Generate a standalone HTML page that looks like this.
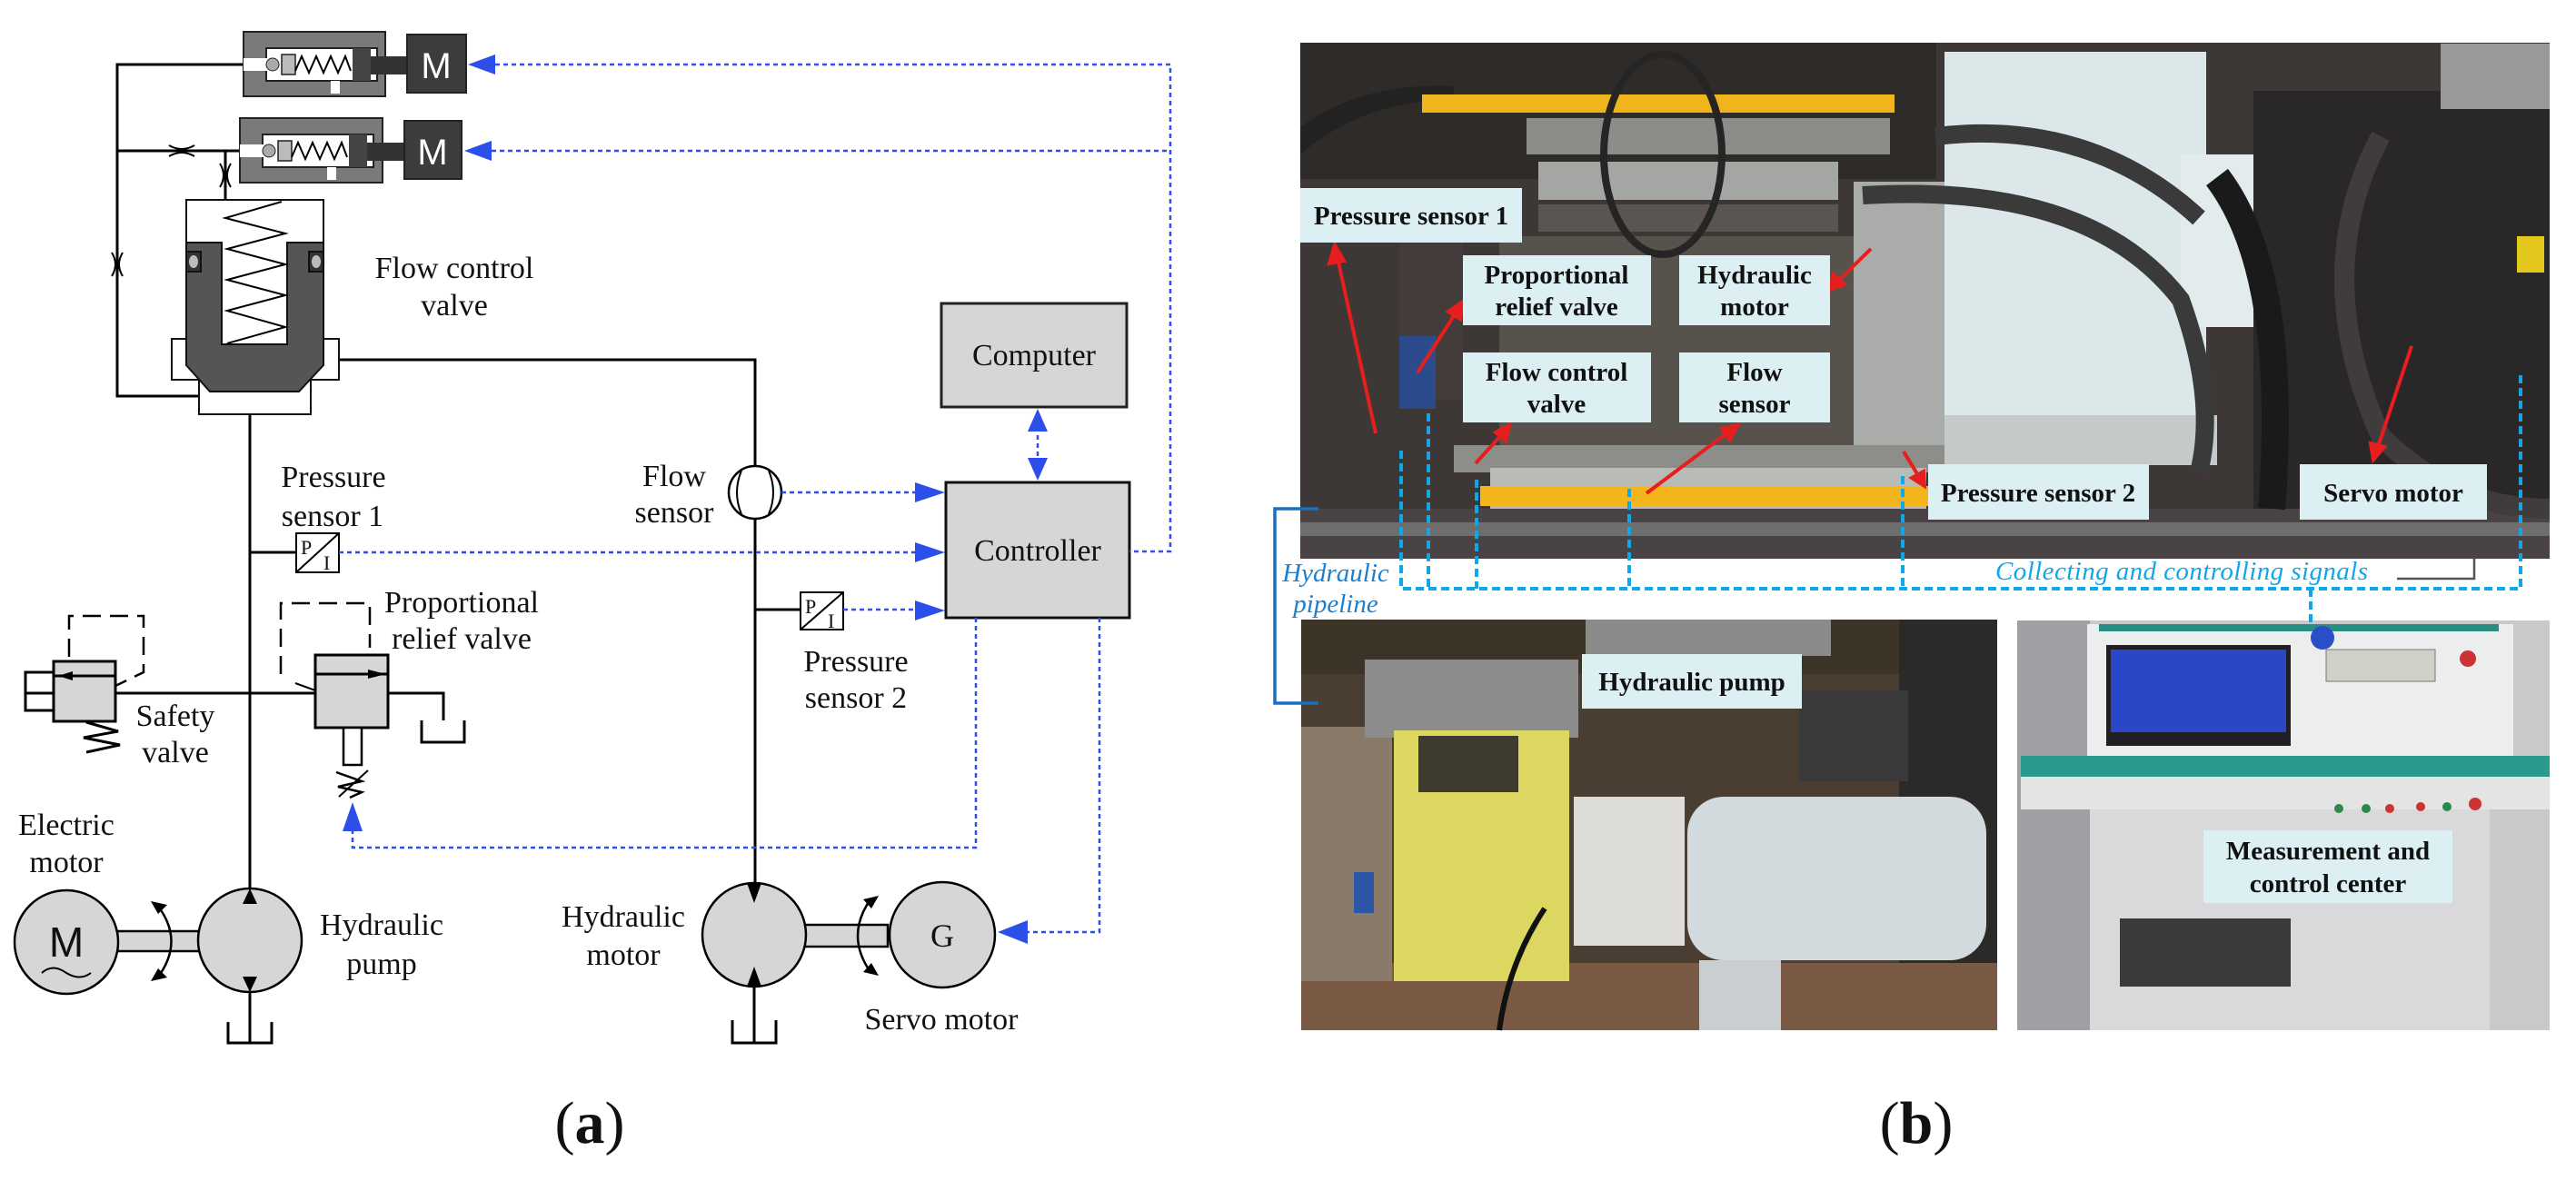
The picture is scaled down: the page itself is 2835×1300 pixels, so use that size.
<!DOCTYPE html>
<html><head><meta charset="utf-8"><style>
html,body{margin:0;padding:0;background:#fff;}
svg{display:block;}
svg text{font-family:"Liberation Serif",serif;}
.lb{font-family:"Liberation Serif",serif;font-weight:bold;fill:#111;font-size:29px;}
.sr{font-family:"Liberation Serif",serif !important;fill:#111;}
.ss{font-family:"Liberation Sans",sans-serif !important;}
</style></head><body>
<svg width="2835" height="1300" viewBox="0 0 2835 1300" xmlns="http://www.w3.org/2000/svg">

<g stroke="#000" stroke-width="3" fill="none">
  <polyline points="268,71 129,71 129,436 219,436"/>
  <polyline points="129,166 264,166"/>
  <line x1="248" y1="166" x2="248" y2="220"/>
  <line x1="275" y1="456" x2="275" y2="978"/>
  <polyline points="373,396 831,396 831,513"/>
  <line x1="831" y1="571" x2="831" y2="971"/>
  <line x1="275" y1="608" x2="326" y2="608"/>
  <line x1="831" y1="671" x2="881" y2="671"/>
  <line x1="127" y1="763" x2="347" y2="763"/>
  <polyline points="427,763 488,763 488,793"/>
  <polyline points="464,793 464,817 511,817 511,793"/>
  <polyline points="59,740 28,740 28,782 59,782"/>
  <line x1="28" y1="763" x2="59" y2="763"/>
</g>
<g stroke="#000" stroke-width="2" fill="none">
  <path d="M186,160 Q200,168 214,160 M186,172 Q200,164 214,172"/>
  <path d="M242,180 Q250,193 242,206 M254,180 Q246,193 254,206"/>
  <path d="M123,278 Q131,291 123,304 M135,278 Q127,291 135,304"/>
</g>

<g>
  <rect x="268" y="35" width="156" height="71" fill="#7a7a7a" stroke="#222" stroke-width="2"/>
  <rect x="293" y="53" width="122" height="36" fill="#fff" stroke="#222" stroke-width="2"/>
  <rect x="268" y="64" width="27" height="14" fill="#fff"/>
  <circle cx="300" cy="71" r="7" fill="#aaa" stroke="#222"/>
  <path d="M310,60 L325,60 L325,82 L310,82 Z" fill="#bbb" stroke="#222" stroke-width="1.5"/>
  <polyline points="325,78 332,62 340,80 348,62 356,80 364,62 372,80 380,62 386,78" fill="none" stroke="#000" stroke-width="2"/>
  <rect x="388" y="53" width="20" height="36" fill="#444"/>
  <rect x="408" y="62" width="42" height="20" fill="#333"/>
  <rect x="364" y="89" width="10" height="14" fill="#fff"/>
  <rect x="448" y="38" width="65" height="64" fill="#3c3c3c" stroke="#222" stroke-width="2"/>
  <text x="480" y="86" text-anchor="middle" class="ss" font-size="40" fill="#fff">M</text>
</g>
<g>
  <rect x="264" y="130" width="157" height="71" fill="#7a7a7a" stroke="#222" stroke-width="2"/>
  <rect x="289" y="148" width="122" height="36" fill="#fff" stroke="#222" stroke-width="2"/>
  <rect x="264" y="159" width="27" height="14" fill="#fff"/>
  <circle cx="296" cy="166" r="7" fill="#aaa" stroke="#222"/>
  <path d="M306,155 L321,155 L321,177 L306,177 Z" fill="#bbb" stroke="#222" stroke-width="1.5"/>
  <polyline points="321,173 328,157 336,175 344,157 352,175 360,157 368,175 376,157 382,173" fill="none" stroke="#000" stroke-width="2"/>
  <rect x="384" y="148" width="20" height="36" fill="#444"/>
  <rect x="404" y="157" width="42" height="20" fill="#333"/>
  <rect x="360" y="184" width="10" height="14" fill="#fff"/>
  <rect x="445" y="133" width="63" height="64" fill="#3c3c3c" stroke="#222" stroke-width="2"/>
  <text x="476" y="181" text-anchor="middle" class="ss" font-size="40" fill="#fff">M</text>
</g>

<g stroke="#111" stroke-width="2">
  <rect x="219" y="418" width="123" height="38" fill="#fff"/>
  <rect x="189" y="373" width="184" height="45" fill="#fff"/>
  <rect x="205" y="220" width="151" height="180" fill="#fff"/>
  <path d="M205,267 L244,267 L244,379 L316,379 L316,267 L356,267 L356,402 L329,431 L231,431 L205,402 Z" fill="#555"/>
  <polyline points="310,222 248,240 314,257 250,274 314,291 250,308 314,325 250,342 314,360 250,378" fill="none" stroke="#000"/>
  <rect x="205" y="277" width="16" height="22" fill="#333"/>
  <rect x="340" y="277" width="16" height="22" fill="#333"/>
  <ellipse cx="213" cy="288" rx="5" ry="7" fill="#bbb" stroke="none"/>
  <ellipse cx="348" cy="288" rx="5" ry="7" fill="#bbb" stroke="none"/>
</g>

<circle cx="831" cy="542" r="29" fill="#fff" stroke="#000" stroke-width="2.5"/>
<path d="M816,518 Q806,542 816,566 M846,518 Q856,542 846,566" fill="none" stroke="#000" stroke-width="2"/>

<g stroke="#000" stroke-width="2" fill="#fff">
  <rect x="326" y="587" width="47" height="43"/>
  <line x1="326" y1="630" x2="373" y2="587"/>
  <rect x="881" y="652" width="47" height="41"/>
  <line x1="881" y1="693" x2="928" y2="652"/>
</g>
<text x="331" y="610" class="sr" font-size="22">P</text><text x="356" y="627" class="sr" font-size="22">I</text>
<text x="886" y="675" class="sr" font-size="22">P</text><text x="911" y="691" class="sr" font-size="22">I</text>

<rect x="59" y="728" width="68" height="66" fill="#d6d6d6" stroke="#000" stroke-width="3"/>
<line x1="59" y1="744" x2="127" y2="744" stroke="#000" stroke-width="3"/>
<path d="M64,744 L80,739 L80,749 Z" fill="#000"/>
<polyline points="76,723 76,678 158,678 158,740 127,755" fill="none" stroke="#000" stroke-width="2.5" stroke-dasharray="20,10"/>
<polyline points="95,795 130,805 92,812 132,820 95,828" fill="none" stroke="#000" stroke-width="3"/>

<rect x="347" y="721" width="80" height="80" fill="#d6d6d6" stroke="#000" stroke-width="3"/>
<line x1="347" y1="742" x2="427" y2="742" stroke="#000" stroke-width="3"/>
<path d="M425,742 L405,737 L405,747 Z" fill="#000"/>
<polyline points="309,742 309,664 407,664 407,713" fill="none" stroke="#000" stroke-width="2.5" stroke-dasharray="20,10"/>
<line x1="325" y1="752" x2="347" y2="760" stroke="#000" stroke-width="2"/>
<rect x="378" y="801" width="20" height="41" fill="#fff" stroke="#000" stroke-width="2.5"/>
<polyline points="370,850 398,860 372,866 398,872 385,878" fill="none" stroke="#000" stroke-width="2.5"/>
<line x1="373" y1="877" x2="405" y2="848" stroke="#000" stroke-width="2"/>

<rect x="129" y="1025" width="92" height="22" fill="#d6d6d6" stroke="#000" stroke-width="2.5"/>
<circle cx="73" cy="1037" r="57" fill="#d6d6d6" stroke="#000" stroke-width="2.5"/>
<text x="73" y="1053" text-anchor="middle" class="ss" font-size="46" fill="#111">M</text>
<path d="M46,1071 Q58,1060 73,1071 Q88,1080 100,1071" fill="none" stroke="#000" stroke-width="2"/>
<circle cx="275" cy="1035" r="57" fill="#d6d6d6" stroke="#000" stroke-width="2.5"/>
<path d="M267,995 L283,995 L275,978 Z" fill="#000"/>
<path d="M267,1075 L283,1075 L275,1092 Z" fill="#000"/>
<line x1="275" y1="1092" x2="275" y2="1148" stroke="#000" stroke-width="3"/>
<polyline points="251,1125 251,1148 299,1148 299,1125" fill="none" stroke="#000" stroke-width="3"/>
<path d="M172,995 Q205,1036 172,1078" fill="none" stroke="#000" stroke-width="2.5"/>
<path d="M166,992 L184,996 L174,1006 Z M166,1080 L184,1076 L174,1066 Z" fill="#000"/>

<rect x="885" y="1018" width="92" height="24" fill="#d6d6d6" stroke="#000" stroke-width="2.5"/>
<circle cx="830" cy="1029" r="57" fill="#d6d6d6" stroke="#000" stroke-width="2.5"/>
<path d="M822,972 L838,972 L830,994 Z" fill="#000"/>
<path d="M822,1086 L838,1086 L830,1064 Z" fill="#000"/>
<line x1="830" y1="1086" x2="830" y2="1148" stroke="#000" stroke-width="3"/>
<polyline points="806,1123 806,1148 854,1148 854,1123" fill="none" stroke="#000" stroke-width="3"/>
<circle cx="1037" cy="1029" r="58" fill="#d6d6d6" stroke="#000" stroke-width="2.5"/>
<text x="1037" y="1042" text-anchor="middle" class="sr" font-size="36">G</text>
<path d="M958,990 Q930,1030 958,1070" fill="none" stroke="#000" stroke-width="2.5"/>
<path d="M967,986 L950,990 L959,1000 Z M967,1074 L950,1070 L959,1060 Z" fill="#000"/>

<rect x="1036" y="334" width="204" height="114" fill="#d6d6d6" stroke="#222" stroke-width="3"/>
<text x="1138" y="402" text-anchor="middle" class="sr" font-size="34">Computer</text>
<rect x="1041" y="531" width="202" height="149" fill="#d6d6d6" stroke="#111" stroke-width="3"/>
<text x="1142" y="617" text-anchor="middle" class="sr" font-size="34">Controller</text>

<g stroke="#2b4fe8" stroke-width="2.5" fill="none" stroke-dasharray="5,4">
  <polyline points="545,71 1288,71 1288,607 1243,607"/>
  <line x1="541" y1="166" x2="1288" y2="166"/>
  <line x1="1142" y1="470" x2="1142" y2="510"/>
  <line x1="860" y1="542" x2="1008" y2="542"/>
  <line x1="373" y1="608" x2="1008" y2="608"/>
  <line x1="928" y1="671" x2="1008" y2="671"/>
  <polyline points="1074,680 1074,933 388,933 388,915"/>
  <polyline points="1210,680 1210,1026 1130,1026"/>
</g>
<g fill="#2b4fe8">
  <path d="M515,71 L545,60 L545,82 Z"/>
  <path d="M511,166 L541,155 L541,177 Z"/>
  <path d="M1142,450 L1131,475 L1153,475 Z"/>
  <path d="M1142,529 L1131,504 L1153,504 Z"/>
  <path d="M1040,542 L1007,531 L1007,553 Z"/>
  <path d="M1040,608 L1007,597 L1007,619 Z"/>
  <path d="M1040,672 L1007,661 L1007,683 Z"/>
  <path d="M388,883 L377,915 L399,915 Z"/>
  <path d="M1098,1026 L1131,1013 L1131,1039 Z"/>
</g>

<g font-size="34" text-anchor="middle">
  <text class="sr" x="500" y="306">Flow control</text>
  <text class="sr" x="500" y="347">valve</text>
  <text class="sr" x="367" y="536">Pressure</text>
  <text class="sr" x="366" y="579">sensor 1</text>
  <text class="sr" x="742" y="535">Flow</text>
  <text class="sr" x="742" y="575">sensor</text>
  <text class="sr" x="508" y="674">Proportional</text>
  <text class="sr" x="508" y="714">relief valve</text>
  <text class="sr" x="193" y="799">Safety</text>
  <text class="sr" x="193" y="839">valve</text>
  <text class="sr" x="942" y="739">Pressure</text>
  <text class="sr" x="942" y="779">sensor 2</text>
  <text class="sr" x="73" y="919">Electric</text>
  <text class="sr" x="73" y="960">motor</text>
  <text class="sr" x="420" y="1029">Hydraulic</text>
  <text class="sr" x="420" y="1072">pump</text>
  <text class="sr" x="686" y="1020">Hydraulic</text>
  <text class="sr" x="686" y="1062">motor</text>
  <text class="sr" x="1036" y="1133">Servo motor</text>
</g>
<text x="649" y="1258" text-anchor="middle" class="sr" font-size="66" fill="#000">(<tspan font-weight="bold">a</tspan>)</text>

<g>
  <rect x="1431" y="47" width="1375" height="568" fill="#3d3835"/>
  <rect x="1431" y="47" width="700" height="150" fill="#2e2b28"/>
  <path d="M1431,140 Q1500,90 1600,95 L1600,110 Q1500,110 1431,170 Z" fill="#222"/>
  <rect x="1565" y="104" width="520" height="20" fill="#f0b41c"/>
  <rect x="1680" y="130" width="400" height="40" fill="#8c8c88"/>
  <rect x="1693" y="178" width="330" height="42" fill="#a4a6a4"/>
  <rect x="1693" y="225" width="330" height="30" fill="#5a5550"/>
  <rect x="1650" y="260" width="400" height="230" fill="#58524c"/>
  <rect x="2040" y="200" width="100" height="300" fill="#a9aca8"/>
  <rect x="1540" y="240" width="70" height="200" fill="#433c3a"/>
  <rect x="1540" y="370" width="40" height="80" fill="#2b4b8c"/>
  <rect x="1600" y="490" width="540" height="30" fill="#8d8d8a"/>
  <rect x="1640" y="515" width="480" height="55" fill="#b9bbb6"/>
  <rect x="1629" y="535" width="494" height="22" fill="#f4b51c"/>
  <rect x="1431" y="560" width="1375" height="55" fill="#4a4346"/>
  <rect x="1431" y="575" width="1375" height="15" fill="#6e6e6e"/>
  <rect x="2140" y="57" width="288" height="400" fill="#dbe7e8"/>
  <rect x="2400" y="170" width="90" height="190" fill="#e3ecec"/>
  <rect x="2140" y="457" width="300" height="55" fill="#c4c9c9"/>
  <rect x="2480" y="100" width="326" height="460" fill="#2a2729"/>
  <rect x="2686" y="48" width="120" height="72" fill="#9a9898"/>
  <path d="M2440,195 Q2520,300 2500,560" fill="none" stroke="#1a1a1a" stroke-width="30"/>
  <path d="M2620,150 Q2540,300 2620,480 Q2700,560 2806,560" fill="none" stroke="#403c3d" stroke-width="22"/>
  <rect x="2770" y="260" width="30" height="40" fill="#e2c81c"/>
  <path d="M2130,150 Q2300,130 2420,240" fill="none" stroke="#3a3a3a" stroke-width="20"/>
  <path d="M2050,215 Q2300,200 2400,330 Q2440,440 2420,520" fill="none" stroke="#3a3a3a" stroke-width="20"/>
  <ellipse cx="1830" cy="170" rx="65" ry="110" fill="none" stroke="#252525" stroke-width="8"/>
</g>
<g>
  <rect x="1432" y="682" width="766" height="452" fill="#4a3e32"/>
  <rect x="1432" y="682" width="766" height="60" fill="#3d3428"/>
  <rect x="1745" y="682" width="270" height="40" fill="#8a8a88"/>
  <rect x="2090" y="682" width="108" height="452" fill="#2c2a28"/>
  <rect x="1980" y="760" width="120" height="100" fill="#3a3a3c"/>
  <rect x="1432" y="1060" width="766" height="74" fill="#7a5a44"/>
  <rect x="1432" y="800" width="100" height="280" fill="#8a7a6a"/>
  <rect x="1502" y="726" width="235" height="86" fill="#8c8c8c"/>
  <rect x="1534" y="804" width="193" height="276" fill="#dcd760"/>
  <rect x="1561" y="810" width="110" height="62" fill="#3e3a30"/>
  <rect x="1732" y="877" width="122" height="164" fill="#dedcd8"/>
  <rect x="1857" y="877" width="329" height="180" rx="40" fill="#d3dadd"/>
  <rect x="1870" y="1057" width="90" height="77" fill="#c9ced0"/>
  <rect x="1490" y="960" width="22" height="45" fill="#2c56a6"/>
  <path d="M1700,1000 Q1660,1060 1650,1134" fill="none" stroke="#111" stroke-width="6"/>
</g>
<g>
  <rect x="2220" y="683" width="586" height="451" fill="#c9c9cc"/>
  <rect x="2220" y="683" width="80" height="451" fill="#9fa0a3"/>
  <rect x="2297" y="687" width="469" height="147" fill="#eceeee"/>
  <rect x="2310" y="687" width="440" height="8" fill="#2b8e84"/>
  <rect x="2318" y="710" width="203" height="111" fill="#1f1f24"/>
  <rect x="2323" y="715" width="193" height="91" fill="#2a47c8"/>
  <rect x="2560" y="715" width="120" height="35" fill="#cfd0c8" stroke="#777"/>
  <rect x="2224" y="832" width="582" height="23" fill="#2a9a8f"/>
  <rect x="2224" y="855" width="582" height="36" fill="#e4e4e4"/>
  <rect x="2300" y="891" width="440" height="243" fill="#d9d9dc"/>
  <rect x="2333" y="1011" width="188" height="75" fill="#3a3a3a"/>
  <g fill="#c33"><circle cx="2716" cy="725" r="9"/><circle cx="2724" cy="885" r="7"/><circle cx="2630" cy="890" r="5"/><circle cx="2664" cy="888" r="5"/></g>
  <g fill="#2a8a4a"><circle cx="2574" cy="890" r="5"/><circle cx="2604" cy="890" r="5"/><circle cx="2693" cy="888" r="5"/></g>
</g>

<g stroke="#e61e1e" stroke-width="4" fill="#e61e1e">
  <line x1="1514" y1="477" x2="1472" y2="284"/><path d="M1469,270 L1463,290 L1479,287 Z"/>
  <line x1="1560" y1="410" x2="1603" y2="343"/><path d="M1610,332 L1594,343 L1607,351 Z"/>
  <line x1="2059" y1="274" x2="2022" y2="310"/><path d="M2013,319 L2018,302 L2030,313 Z"/>
  <line x1="1624" y1="510" x2="1654" y2="477"/><path d="M1661,468 L1646,476 L1657,485 Z"/>
  <line x1="1812" y1="543" x2="1903" y2="475"/><path d="M1912,468 L1895,472 L1904,484 Z"/>
  <line x1="2095" y1="497" x2="2112" y2="525"/><path d="M2118,535 L2104,526 L2117,519 Z"/>
  <line x1="2654" y1="381" x2="2616" y2="495"/><path d="M2612,506 L2609,488 L2624,492 Z"/>
</g>

<g>
  <rect x="1431" y="207" width="244" height="60" fill="#dcf0f4"/>
  <text x="1553" y="247" text-anchor="middle" class="lb">Pressure sensor 1</text>
  <rect x="1610" y="281" width="207" height="77" fill="#dcf0f4"/>
  <text x="1713" y="312" text-anchor="middle" class="lb">Proportional</text>
  <text x="1713" y="347" text-anchor="middle" class="lb">relief valve</text>
  <rect x="1848" y="281" width="166" height="77" fill="#dcf0f4"/>
  <text x="1931" y="312" text-anchor="middle" class="lb">Hydraulic</text>
  <text x="1931" y="347" text-anchor="middle" class="lb">motor</text>
  <rect x="1610" y="388" width="207" height="77" fill="#dcf0f4"/>
  <text x="1713" y="419" text-anchor="middle" class="lb">Flow control</text>
  <text x="1713" y="454" text-anchor="middle" class="lb">valve</text>
  <rect x="1848" y="388" width="166" height="77" fill="#dcf0f4"/>
  <text x="1931" y="419" text-anchor="middle" class="lb">Flow</text>
  <text x="1931" y="454" text-anchor="middle" class="lb">sensor</text>
  <rect x="2122" y="511" width="243" height="61" fill="#dcf0f4"/>
  <text x="2243" y="552" text-anchor="middle" class="lb">Pressure sensor 2</text>
  <rect x="2531" y="511" width="206" height="61" fill="#dcf0f4"/>
  <text x="2634" y="552" text-anchor="middle" class="lb">Servo motor</text>
  <rect x="1741" y="720" width="242" height="60" fill="#dcf0f4"/>
  <text x="1862" y="760" text-anchor="middle" class="lb">Hydraulic pump</text>
  <rect x="2425" y="914" width="274" height="80" fill="#dcf0f4"/>
  <text x="2562" y="946" text-anchor="middle" class="lb">Measurement and</text>
  <text x="2562" y="982" text-anchor="middle" class="lb">control center</text>
</g>

<g stroke="#12a6e6" stroke-width="4" fill="none" stroke-dasharray="9,5">
  <polyline points="1542,496 1542,648 2774,648 2774,410"/>
  <line x1="1572" y1="455" x2="1572" y2="648"/>
  <line x1="1625" y1="528" x2="1625" y2="648"/>
  <line x1="1793" y1="538" x2="1793" y2="648"/>
  <line x1="2094" y1="524" x2="2094" y2="648"/>
  <line x1="2543" y1="648" x2="2543" y2="690"/>
</g>
<circle cx="2556" cy="702" r="13" fill="#2a4fc8"/>
<polyline points="2638,637 2723,637 2723,615" fill="none" stroke="#555" stroke-width="2.5"/>
<text x="2196" y="638" class="sr" font-style="italic" font-size="29" style="fill:#12a6e6" textLength="410">Collecting and controlling signals</text>

<polyline points="1451,560 1403,560 1403,774 1451,774" fill="none" stroke="#1a6fc0" stroke-width="3.5"/>
<text x="1470" y="640" text-anchor="middle" class="sr" font-style="italic" font-size="29" style="fill:#1a7fd0">Hydraulic</text>
<text x="1470" y="674" text-anchor="middle" class="sr" font-style="italic" font-size="29" style="fill:#1a7fd0">pipeline</text>

<text x="2109" y="1258" text-anchor="middle" class="sr" font-size="66" fill="#000">(<tspan font-weight="bold">b</tspan>)</text>
</svg>
</body></html>
